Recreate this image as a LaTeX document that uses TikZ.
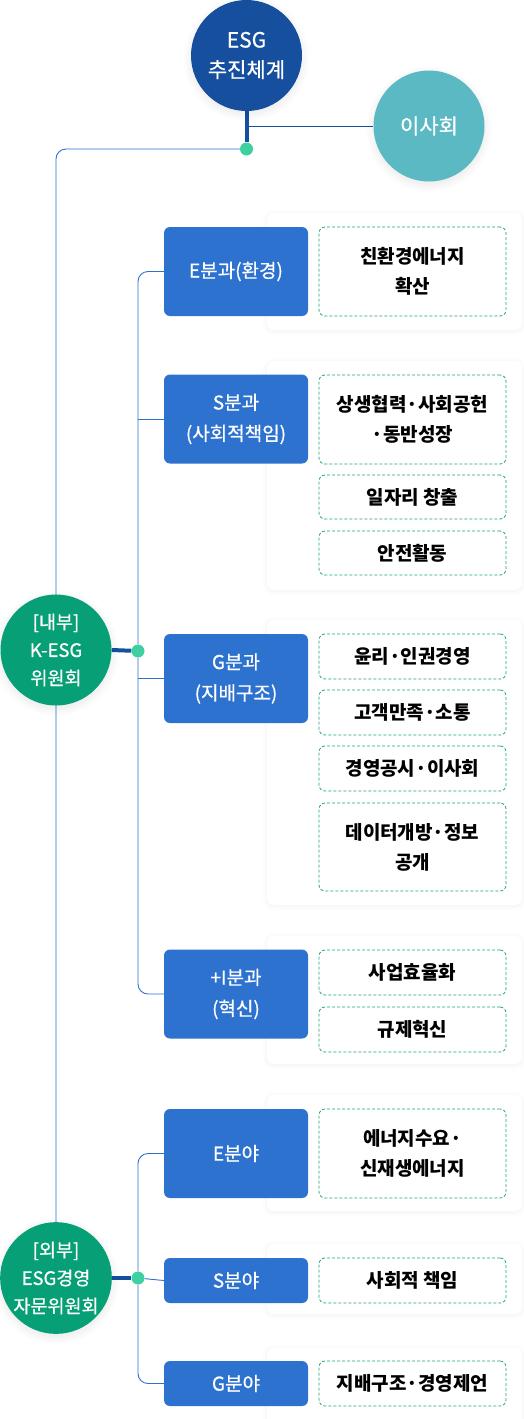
\documentclass[tikz,border=0pt]{standalone}
\usepackage{fontspec}
\newfontfamily\kr{Noto Sans CJK KR}
\newfontfamily\krm{Noto Sans CJK KR}[FakeBold=0.7]
\usetikzlibrary{shadows.blur,backgrounds}
\definecolor{esgblue}{HTML}{154F9E}
\definecolor{boardteal}{HTML}{5BB9C4}
\definecolor{comgreen}{HTML}{079F75}
\definecolor{boxblue}{HTML}{2D72CF}
\definecolor{linkblue}{HTML}{2E6FCF}
\definecolor{dotgreen}{HTML}{3FD0A2}
\definecolor{dashgreen}{HTML}{1BA57C}
\begin{document}
\begin{tikzpicture}[x=1pt,y=-1pt,
	hub/.style={circle,minimum size=111pt,inner sep=0pt,text=white,align=center,
		font=\krm\fontsize{18.5}{28}\selectfont,
		blur shadow={shadow xshift=0pt,shadow yshift=-3pt,shadow opacity=10,shadow blur radius=8pt,shadow blur steps=12}},
	tophub/.style={hub,font=\krm\fontsize{21}{30}\selectfont},
	team/.style={fill=boxblue,rounded corners=6pt,minimum width=144pt,inner sep=0pt,
		text=white,align=center,font=\krm\fontsize{19}{31}\selectfont},
	task/.style={draw=dashgreen,dash pattern=on 3pt off 2pt,line width=0.8pt,fill=white,
		rounded corners=6pt,minimum width=187pt,inner sep=0pt,align=center,
		font=\kr\bfseries\fontsize{19}{30}\selectfont},
	panel/.style={fill=white,rounded corners=7pt,minimum width=255pt,inner sep=0pt,
		blur shadow={shadow xshift=0pt,shadow yshift=-1pt,shadow opacity=6,shadow blur radius=5pt}},
	joint/.style={circle,fill=dotgreen,minimum size=13pt,inner sep=0pt},
	thickline/.style={draw=esgblue,line width=4pt},
	thinline/.style={draw=linkblue,line width=0.9pt}]
	\useasboundingbox (0,0) rectangle (524,1419);

	% panels
	\node[panel,minimum height=117pt](pe) at (394.5,271.5){};
	\node[panel,minimum height=229pt](ps) at (394.5,475.5){};
	\node[panel,minimum height=285pt](pg) at (394.5,762.5){};
	\node[panel,minimum height=128pt](pi) at (394.5,1000){};
	\node[panel,minimum height=116pt](pfe) at (394.5,1153){};
	\node[panel,minimum height=70pt](pfs) at (394.5,1279){};
	\node[panel,minimum height=80pt](pfg) at (394.5,1388){};

	% top
	\node[tophub,fill=esgblue](esg) at (246.5,55.5){ESG\\추진체계};
	\node[tophub,fill=boardteal](board) at (429,126){이사회};
	\node[joint](topdot) at (246.5,149){};

	% committees
	\node[hub,fill=comgreen](inner) at (56,650){[내부]\\K-ESG\\위원회};
	\node[joint](innerdot) at (138,651){};
	\node[hub,fill=comgreen](outer) at (56,1278){[외부]\\ESG경영\\자문위원회};
	\node[joint](outerdot) at (138,1278){};

	% teams
	\node[team,minimum height=89pt](eteam) at (236,271.5){E분과(환경)};
	\node[team,minimum height=89pt](steam) at (236,419){S분과\\(사회적책임)};
	\node[team,minimum height=89pt](gteam) at (236,678.5){G분과\\(지배구조)};
	\node[team,minimum height=89pt](iteam) at (236,994){+I분과\\(혁신)};
	\node[team,minimum height=89pt](efield) at (236,1153.5){E분야};
	\node[team,minimum height=45pt](sfield) at (236,1280.5){S분야};
	\node[team,minimum height=45pt](gfield) at (236,1383.5){G분야};

	% tasks
	\node[task,minimum height=89pt](e1) at (412.5,271.5){친환경에너지\\확산};
	\node[task,minimum height=89pt](s1) at (412.5,419.5){상생협력·사회공헌\\·동반성장};
	\node[task,minimum height=44pt](s2) at (412.5,497){일자리 창출};
	\node[task,minimum height=44pt](s3) at (412.5,553){안전활동};
	\node[task,minimum height=45pt](g1) at (412.5,656.5){윤리·인권경영};
	\node[task,minimum height=45pt](g2) at (412.5,712.5){고객만족·소통};
	\node[task,minimum height=45pt](g3) at (412.5,768.5){경영공시·이사회};
	\node[task,minimum height=88pt](g4) at (412.5,847){데이터개방·정보\\공개};
	\node[task,minimum height=45pt](i1) at (412.5,972.5){사업효율화};
	\node[task,minimum height=45pt](i2) at (412.5,1029.5){규제혁신};
	\node[task,minimum height=89pt](fe) at (412.5,1153.5){에너지수요·\\신재생에너지};
	\node[task,minimum height=45pt](fs) at (412.5,1280.5){사회적 책임};
	\node[task,minimum height=45pt](fg) at (412.5,1383.5){지배구조·경영제언};

	% links
	\begin{scope}[on background layer]
		\draw[thickline] (esg.south) -- (topdot);
		\draw[thinline,draw=esgblue] (esg.south |- board) -- (board);
		\draw[thinline,rounded corners=10pt] (topdot) -| (outer.north);
		\draw[thickline] (inner.east) -- (innerdot);
		\draw[thinline,rounded corners=10pt] (eteam.west) -| (innerdot) |- (iteam.west);
		\draw[thinline] (steam.west) -- (steam.west -| innerdot);
		\draw[thinline] (gteam.west) -- (gteam.west -| innerdot);
		\draw[thickline] (outer.east) -- (outerdot);
		\draw[thinline,rounded corners=10pt] (efield.west) -| (outerdot) |- (gfield.west);
		\draw[thinline] (sfield.west) -- (outerdot);
	\end{scope}
\end{tikzpicture}
\end{document}
